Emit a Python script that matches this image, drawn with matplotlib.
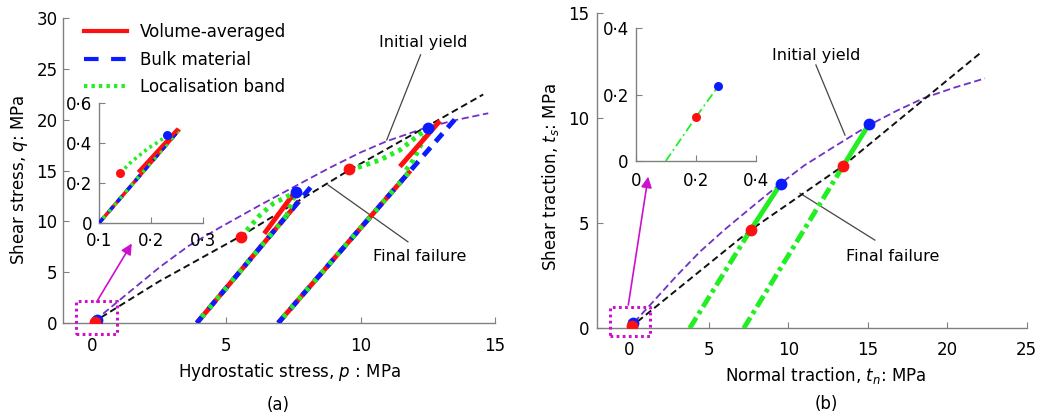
import matplotlib
matplotlib.use("Agg")
import matplotlib.pyplot as plt
from matplotlib.lines import Line2D

plt.rcParams['font.family'] = ['DejaVu Sans']
plt.rcParams['mathtext.fontset'] = 'dejavusans'
FS = 12

# ---------------- data: panel (a) ----------------
yield_a_p = [0.1, 0.42, 1.0, 2.53, 3.6, 4.76, 6.25, 7.62, 8.86, 10.0, 10.97, 12.45, 13.57, 14.75]
yield_a_q = [0.25, 0.93, 2.2, 5.52, 7.6, 9.4, 11.6, 13.55, 15.3, 16.8, 17.9, 19.25, 20.0, 20.65]
fail_a_p = [0.0, 2.5, 5.5, 9.6, 12.5, 14.56]
fail_a_q = [0.0, 4.1, 8.5, 15.1, 19.4, 22.5]
# loading paths (bulk material) start/end
bulk_a_p = [[3.9, 8.18], [6.93, 13.51]]
bulk_a_q = [[0.0, 13.5], [0.0, 20.06]]
# volume-averaged offset segments
vol_a_p = [[6.41, 7.65], [11.46, 12.95]]
vol_a_q = [[8.8, 13.25], [15.4, 19.9]]
# red path along elastic line (end)
vol_a_lin_q = [12.0, 15.0]
# localisation band curves (red dot -> blue dot)
loc_a_p = [[5.53, 5.82, 6.25, 6.75, 7.24, 7.59], [9.58, 9.97, 10.72, 11.46, 12.08, 12.52]]
loc_a_q = [[8.5, 9.31, 10.62, 11.77, 12.43, 12.86], [15.13, 15.38, 16.05, 17.03, 18.34, 19.23]]
# localisation band departure from elastic line
locdep_a_p = [[7.23, 7.59], [11.69, 11.96, 12.33, 12.52]]
locdep_a_q = [[10.5, 12.86], [15.06, 16.05, 18.0, 19.23]]
red_a_p = [0.11, 5.53, 9.58]
red_a_q = [0.10, 8.5, 15.13]
blue_a_p = [0.17, 7.59, 12.52]
blue_a_q = [0.33, 12.86, 19.23]

# inset (a)
ins_a_line_p = [0.1, 0.252]
ins_a_line_q = [0.0, 0.462]
ins_a_vol_p = [0.177, 0.249]
ins_a_vol_q = [0.261, 0.466]
ins_a_loc_p = [0.14, 0.149, 0.162, 0.178, 0.194, 0.21, 0.223, 0.23]
ins_a_loc_q = [0.25, 0.273, 0.307, 0.34, 0.374, 0.40, 0.424, 0.44]
ins_a_red = (0.14, 0.25)
ins_a_blue = (0.23, 0.44)

# ---------------- data: panel (b) ----------------
yield_b_x = [0.3, 1.3, 2.98, 4.45, 6.0, 7.59, 9.48, 11.0, 12.83, 15.1, 16.8, 18.49, 20.4, 22.37]
yield_b_y = [0.28, 1.1, 2.5, 3.65, 4.7, 5.7, 6.87, 7.75, 8.62, 9.68, 10.35, 10.95, 11.45, 11.9]
fail_b_x = [0.0, 7.63, 13.46, 22.07]
fail_b_y = [0.0, 4.68, 7.74, 13.1]
path_b_x = [[3.8, 7.63, 9.52], [7.2, 13.46, 15.07]]
path_b_y = [[0.0, 4.68, 6.87], [0.0, 7.74, 9.71]]
red_b_x = [0.19, 7.63, 13.46]
red_b_y = [0.11, 4.68, 7.74]
blue_b_x = [0.25, 9.52, 15.07]
blue_b_y = [0.24, 6.87, 9.71]
# inset (b)
ins_b_x = [0.1, 0.2, 0.275]
ins_b_y = [0.0, 0.132, 0.226]

a_xticks = [0, 5, 10, 15]
a_yticks = [0, 5, 10, 15, 20, 25, 30]
ia_xticks = [0.1, 0.2, 0.3]
ia_xlabels = ['0·1', '0·2', '0·3']
ia_yticks = [0, 0.2, 0.4, 0.6]
ia_ylabels = ['0', '0·2', '0·4', '0·6']
b_xticks = [0, 5, 10, 15, 20, 25]
b_yticks = [0, 5, 10, 15]
ib_ticks = [0, 0.2, 0.4]
ib_labels = ['0', '0·2', '0·4']

RED = '#ff1010'
BLUE = '#0a1cff'
GREEN = '#22ee22'
PURPLE = '#7030c8'
MAG = '#cc10cc'
GRAY = '#808080'

W, H = 1038, 420
fig = plt.figure(figsize=(W / 100, H / 100), dpi=100)


def px_axes(l, r, b, t):
    return fig.add_axes([l / W, (H - b) / H, (r - l) / W, (b - t) / H])


def style(ax, xpad, ypad, fs=FS):
    for s in ['top', 'right']:
        ax.spines[s].set_visible(False)
    for s in ['left', 'bottom']:
        ax.spines[s].set_color(GRAY)
        ax.spines[s].set_linewidth(1.0)
    ax.tick_params(direction='in', length=4, color=GRAY, labelsize=fs)
    ax.tick_params(axis='x', pad=xpad)
    ax.tick_params(axis='y', pad=ypad)
    ax.patch.set_alpha(0)


# ================= panel (a) =================
axa = px_axes(63, 495, 323, 18.3)
axa.set_xlim(-1.08, 15)
axa.set_ylim(0, 30)
style(axa, 10, 4)
axa.set_xticks(a_xticks)
axa.set_yticks(a_yticks)

axa.plot(yield_a_p, yield_a_q, color=PURPLE, lw=1.3, ls=(0, (4, 2)), zorder=2)
axa.plot(fail_a_p, fail_a_q, color='#111111', lw=1.4, ls=(0, (3.5, 2)), zorder=2)

LW = 3.5
for i in range(2):
    p0, p1 = bulk_a_p[i]
    q0, q1 = bulk_a_q[i]
    qe = vol_a_lin_q[i]
    pe = p0 + (p1 - p0) * (qe - q0) / (q1 - q0)
    axa.plot([p0, pe], [q0, qe], color=RED, lw=LW, zorder=3, solid_capstyle='butt')
    axa.plot(bulk_a_p[i], bulk_a_q[i], color=BLUE, lw=LW, ls=(0, (2.2, 1.6)), zorder=4)
    qd = locdep_a_q[i][0]
    pd = p0 + (p1 - p0) * (qd - q0) / (q1 - q0)
    axa.plot([p0, pd], [q0, qd], color=GREEN, lw=LW, ls=(0.8, (0.8, 1.6)), zorder=5)
    axa.plot(locdep_a_p[i], locdep_a_q[i], color=GREEN, lw=LW, ls=(0, (0.8, 1.0)), zorder=5)
    axa.plot(vol_a_p[i], vol_a_q[i], color=RED, lw=LW, zorder=5, solid_capstyle='butt')
    axa.plot(loc_a_p[i], loc_a_q[i], color=GREEN, lw=LW, ls=(0, (0.8, 1.0)), zorder=5)

axa.plot(blue_a_p, blue_a_q, 'o', color=BLUE, ms=8.5, zorder=6, mec='none')
axa.plot(red_a_p, red_a_q, 'o', color=RED, ms=8.5, zorder=7, mec='none')

# magenta box and arrow
axa.plot([-0.6, 0.92, 0.92, -0.6, -0.6], [-1.05, -1.05, 2.14, 2.14, -1.05],
         color=MAG, lw=2.2, ls=(0, (0.9, 1.1)), clip_on=False, zorder=8)
axa.annotate('', xy=(1.48, 7.83), xytext=(0.17, 2.07),
             arrowprops=dict(arrowstyle='-|>', color=MAG, lw=1.2, mutation_scale=16,
                             shrinkA=0, shrinkB=0), zorder=8)

axa.text(12.34, 27.58, 'Initial yield', fontsize=11.5, ha='center', va='center')
axa.plot([12.23, 10.97], [26.4, 18.02], color='#444444', lw=0.9, zorder=1)
axa.text(12.21, 6.58, 'Final failure', fontsize=11.5, ha='center', va='center')
axa.plot([11.76, 8.79], [7.99, 13.58], color='#444444', lw=0.9, zorder=1)

handles = [Line2D([], [], color=RED, lw=3),
           Line2D([], [], color=BLUE, lw=3, ls=(0, (3.5, 3))),
           Line2D([], [], color=GREEN, lw=3, ls=(0, (0.8, 1.0)))]
axa.legend(handles, ['Volume-averaged', 'Bulk material', 'Localisation band'],
           loc='upper left', bbox_to_anchor=(84 / W, (H - 23) / H),
           bbox_transform=fig.transFigure, frameon=False, fontsize=FS,
           handlelength=2.6, handletextpad=0.75, labelspacing=0.58,
           borderpad=0, borderaxespad=0)

# inset (a)
ia = px_axes(99.3, 203.3, 222.7, 103.3)
ia.set_xlim(0.1, 0.3)
ia.set_ylim(0, 0.6)
style(ia, 7, 5)
ia.set_xticks(ia_xticks)
ia.set_xticklabels(ia_xlabels)
ia.set_yticks(ia_yticks)
ia.set_yticklabels(ia_ylabels)
LWi = 2.6
ia.plot(ins_a_line_p, ins_a_line_q, color=RED, lw=LWi, zorder=3)
ia.plot(ins_a_line_p, ins_a_line_q, color=BLUE, lw=LWi, ls=(0, (2.2, 1.6)), zorder=4)
ia.plot(ins_a_line_p, ins_a_line_q, color=GREEN, lw=LWi, ls=(0.8, (0.8, 1.6)), zorder=5)
ia.plot(ins_a_vol_p, ins_a_vol_q, color=RED, lw=LWi, zorder=5)
ia.plot(ins_a_loc_p, ins_a_loc_q, color=GREEN, lw=LWi, ls=(0, (0.8, 1.0)), zorder=5)
ia.plot(*ins_a_blue, 'o', color=BLUE, ms=6.5, mec='none', zorder=6)
ia.plot(*ins_a_red, 'o', color=RED, ms=6.5, mec='none', zorder=6)

# ================= panel (b) =================
axb = px_axes(597.3, 1026.7, 328.3, 13.3)
axb.set_xlim(-2.01, 25)
axb.set_ylim(0, 15)
style(axb, 9.5, 6)
axb.set_xticks(b_xticks)
axb.set_yticks(b_yticks)

axb.plot(yield_b_x, yield_b_y, color=PURPLE, lw=1.3, ls=(0, (4, 2)), zorder=2)
axb.plot(fail_b_x, fail_b_y, color='#111111', lw=1.4, ls=(0, (3.5, 2)), zorder=2)
for i in range(2):
    axb.plot(path_b_x[i][:2], path_b_y[i][:2], color=GREEN, lw=3.5,
             ls=(0, (2.6, 0.9, 0.8, 0.9)), zorder=3)
    axb.plot(path_b_x[i][1:], path_b_y[i][1:], color=GREEN, lw=3.5, zorder=3,
             solid_capstyle='butt')
axb.plot(blue_b_x, blue_b_y, 'o', color=BLUE, ms=8.5, mec='none', zorder=6)
axb.plot(red_b_x, red_b_y, 'o', color=RED, ms=8.5, mec='none', zorder=7)

axb.plot([-1.2, 1.3, 1.3, -1.2, -1.2], [-0.37, -0.37, 1.03, 1.03, -0.37],
         color=MAG, lw=2.2, ls=(0, (0.9, 1.1)), clip_on=False, zorder=8)
axb.annotate('', xy=(1.19, 7.22), xytext=(-0.06, 1.11),
             arrowprops=dict(arrowstyle='-|>', color=MAG, lw=1.2, mutation_scale=16,
                             shrinkA=0, shrinkB=0), zorder=8)

axb.text(11.77, 12.97, 'Initial yield', fontsize=11.5, ha='center', va='center')
axb.plot([11.74, 13.57], [12.54, 9.2], color='#444444', lw=0.9, zorder=1)
axb.text(16.58, 3.44, 'Final failure', fontsize=11.5, ha='center', va='center')
axb.plot([15.45, 10.74], [4.2, 6.43], color='#444444', lw=0.9, zorder=1)

# inset (b)
ib = px_axes(635.7, 756, 161, 28.3)
ib.set_xlim(0, 0.4)
ib.set_ylim(0, 0.4)
style(ib, 8, 5)
ib.set_xticks(ib_ticks)
ib.set_xticklabels(ib_labels)
ib.set_yticks(ib_ticks)
ib.set_yticklabels(ib_labels)
ib.plot(ins_b_x, ins_b_y, color=GREEN, lw=1.3, ls=(0, (5, 2, 1, 2)), zorder=3)
ib.plot(ins_b_x[2], ins_b_y[2], 'o', color=BLUE, ms=6.5, mec='none', zorder=6)
ib.plot(ins_b_x[1], ins_b_y[1], 'o', color=RED, ms=6.5, mec='none', zorder=6)

# axis labels and captions
fig.text(289 / W, (H - 371.7) / H, 'Hydrostatic stress, $p$ : MPa', fontsize=FS,
         ha='center', va='center')
fig.text(19.5 / W, (H - 180) / H, 'Shear stress, $q$: MPa', fontsize=FS,
         ha='center', va='center', rotation=90)
fig.text(826 / W, (H - 375) / H, 'Normal traction, $t_n$: MPa', fontsize=FS,
         ha='center', va='center')
fig.text(550.5 / W, (H - 176.7) / H, 'Shear traction, $t_s$: MPa', fontsize=FS,
         ha='center', va='center', rotation=90)
fig.text(278 / W, (H - 405) / H, '(a)', fontsize=FS, ha='center', va='center')
fig.text(826 / W, (H - 404) / H, '(b)', fontsize=FS, ha='center', va='center')

fig.savefig('out.png', dpi=100)
